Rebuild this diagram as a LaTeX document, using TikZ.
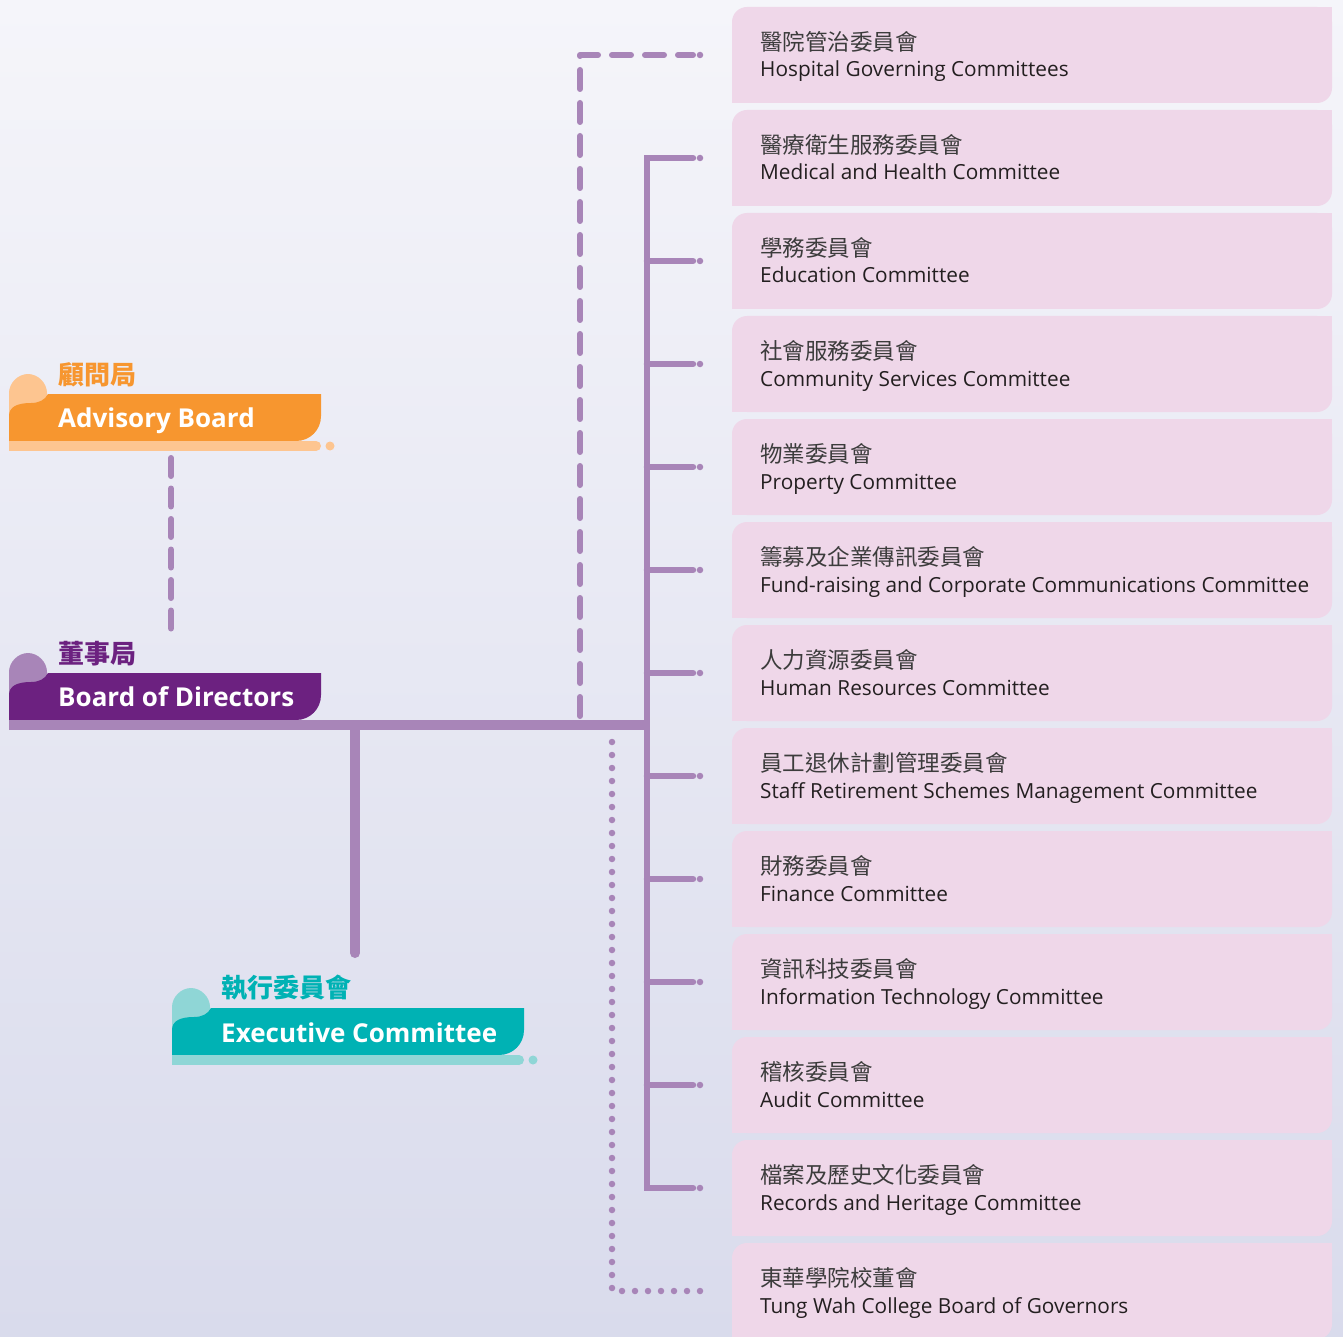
\documentclass[tikz,border=0pt]{standalone}
\usepackage{fontspec}
\setmainfont{Open Sans}
\newfontfamily\cjk{Noto Sans CJK TC}
\definecolor{bgtop}{HTML}{F5F5FA}
\definecolor{bgbot}{HTML}{D9DBEC}
\definecolor{conn}{HTML}{A885B8}
\definecolor{boxfill}{HTML}{EFD7E9}
\definecolor{orangeD}{HTML}{F7962F}
\definecolor{orangeL}{HTML}{FDC590}
\definecolor{purpD}{HTML}{6C2180}
\definecolor{purpL}{HTML}{A885B8}
\definecolor{tealD}{HTML}{00B2B4}
\definecolor{tealL}{HTML}{8FD6D6}
\definecolor{zhgray}{HTML}{3C3C3C}
\definecolor{engray}{HTML}{231F20}
\newcommand\tagshape[3]{%
  \fill[#3] (0,47) -- (0,-1) .. controls (0,-11) and (9,-20) .. (19,-20) .. controls (29,-20) and (38,-11) .. (38,-1) -- (38,47) -- cycle;
  \fill[#2] (0,47) -- (0,22) .. controls (0,13) and (8,9) .. (22,9) .. controls (30,9) and (36,6) .. (39,0) -- (#1,0) -- (#1,22) .. controls (#1,36) and (#1-11,47) .. (#1-25,47) -- cycle;
}
\begin{document}
\begin{tikzpicture}[x=1pt,y=-1pt,
  cbox/.style={fill=boxfill,rounded corners=15pt,minimum width=600pt,minimum height=96pt,inner sep=0pt},
  zh/.style={font=\cjk\fontsize{22.5}{26}\selectfont,text=zhgray,inner sep=0pt,anchor=base west},
  en/.style={font=\fontsize{20.8}{24}\selectfont,text=engray,inner sep=0pt,anchor=base west},
  tit/.style={font=\bfseries\fontsize{26}{30}\selectfont,text=white,inner sep=0pt,anchor=base west},
  titzh/.style={font=\cjk\bfseries\fontsize{26}{30}\selectfont,inner sep=0pt,anchor=base west},
  dot/.style={circle,fill=conn,minimum size=6.5pt,inner sep=0pt},
  trunk/.style={draw=conn,line width=6.5pt},
  dashline/.style={draw=conn,line width=6pt,line cap=round,line join=round,dash pattern=on 19pt off 14pt},
  dotline/.style={draw=conn,line width=6.5pt,line cap=round,dash pattern=on 0pt off 13pt},
]
\shade[top color=bgtop,bottom color=bgbot] (0,0) rectangle (1343,1337);
\useasboundingbox (0,0) rectangle (1343,1337);

% committee boxes
\foreach \i/\zhtxt/\entxt in {
 1/醫院管治委員會/Hospital Governing Committees,
 2/醫療衛生服務委員會/Medical and Health Committee,
 3/學務委員會/Education Committee,
 4/社會服務委員會/Community Services Committee,
 5/物業委員會/Property Committee,
 6/籌募及企業傳訊委員會/Fund-raising and Corporate Communications Committee,
 7/人力資源委員會/Human Resources Committee,
 8/員工退休計劃管理委員會/Staff Retirement Schemes Management Committee,
 9/財務委員會/Finance Committee,
 10/資訊科技委員會/Information Technology Committee,
 11/稽核委員會/Audit Committee,
 12/檔案及歷史文化委員會/Records and Heritage Committee,
 13/東華學院校董會/Tung Wah College Board of Governors}{
  \pgfmathsetmacro\cy{55+103*(\i-1)}
  \node[cbox] (b\i) at (1032,\cy) {};
  \fill[boxfill] (b\i.north east) rectangle ++(-20,20);
  \fill[boxfill] (b\i.south west) rectangle ++(20,-20);
  \node[zh] (z\i) at (760,\cy-4.5) {\zhtxt};
  \node[en] (n\i) at (760,\cy+22) {\entxt};
  \coordinate (e\i) at (693,\cy);
  \coordinate (j\i) at (647,\cy);
  \node[dot] (d\i) at (700,\cy) {};
}

% title tags
\begin{scope}[shift={(9,394)}]
  \tagshape{312}{orangeD}{orangeL}
  \fill[orangeL] (0,47) rectangle (307,57);
  \fill[orangeL] (307,52) circle (5);
  \fill[orangeL] (321,52) circle (4.5);
\end{scope}
\node[titzh,text=orangeD] (advzh) at (58,384.5) {顧問局};
\node[tit] (adv) at (58,427) {Advisory Board};

\begin{scope}[shift={(9,673)}]
  \tagshape{312}{purpD}{purpL}
\end{scope}
\node[titzh,text=purpD] (bodzh) at (58,663.5) {董事局};
\node[tit] (bod) at (58,706) {Board of Directors};

\begin{scope}[shift={(172,1008)}]
  \tagshape{352}{tealD}{tealL}
  \fill[tealL] (0,47) rectangle (347,57);
  \fill[tealL] (347,52) circle (5);
  \fill[tealL] (361,52) circle (4.5);
\end{scope}
\node[titzh,text=tealD] (exzh) at (221,997.5) {執行委員會};
\node[tit] (ex) at (221,1042) {Executive Committee};

% connectors
\coordinate (advbot) at (171,458);
\coordinate (bodtop) at (171,629);
\draw[draw=conn,line width=6pt,line cap=round,dash pattern=on 18pt off 12.5pt] (advbot) -- (bodtop);

\coordinate (barL) at (9,725);
\coordinate (barR) at (650,725);
\draw[draw=conn,line width=10pt] (barL) -- (barR);

\coordinate (exTop) at (355,730);
\coordinate (exBot) at (355,953);
\draw[draw=conn,line width=10pt,line cap=round] (exTop) -- (exBot);

\draw[trunk,line cap=round] (e2) -- (j2) -- (j12) -- (e12);
\foreach \i in {3,...,11} { \draw[trunk,line cap=round] (j\i) -- (e\i); }

\coordinate (dashStart) at (580,716);
\coordinate (dashCorner) at (580,55);
\draw[dashline] (dashStart) -- (dashCorner) -- (e1);

\coordinate (dotStart) at (612,742);
\coordinate (dotCorner) at (612,1291);
\draw[dotline] (dotStart) -- (dotCorner) -- (e13);
\end{tikzpicture}
\end{document}
